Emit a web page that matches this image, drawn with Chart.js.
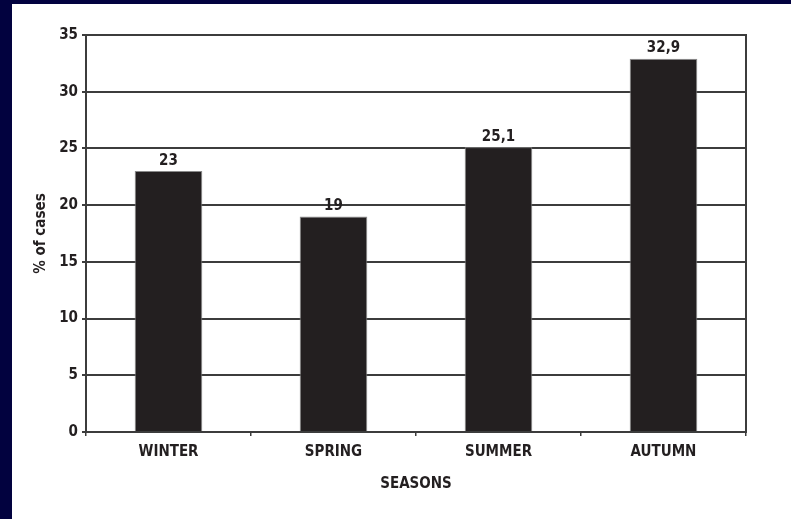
<!DOCTYPE html>
<html lang="en">
<head>
  <meta charset="UTF-8" />
  <title>Seasonal distribution of cases</title>
  <script src="https://cdn.jsdelivr.net/npm/chart.js"></script>
  <style>
    html, body {
      margin: 0;
      padding: 0;
      background: #02023f;
      overflow: hidden;
    }

    #chart-card {
      position: absolute;
      left: 12px;
      top: 4px;
      width: 779px;
      height: 515px;
      background: #ffffff;
    }
  </style>
</head>
<body>
  <div id="chart-card">
    <canvas id="seasonChart"></canvas>
  </div>

  <script>
    const seasons = ["WINTER", "SPRING", "SUMMER", "AUTUMN"];
    const casePercent = [23, 19, 25.1, 32.9];
    const yTicks = [0, 5, 10, 15, 20, 25, 30, 35];

    const FONT = "'Liberation Sans Narrow', 'Arial Narrow', 'DejaVu Sans Condensed', 'Liberation Sans', sans-serif";
    const INK = "#231f20";
    const GRID = "#3c3c3c";

    // value labels above each bar, decimal comma as in the original
    const barLabels = {
      id: "barLabels",
      afterDatasetsDraw(chart) {
        const ctx = chart.ctx;
        const meta = chart.getDatasetMeta(0);
        ctx.save();
        ctx.font = "bold 15px " + FONT;
        ctx.fillStyle = INK;
        ctx.textAlign = "center";
        ctx.textBaseline = "bottom";
        meta.data.forEach((bar, i) => {
          const txt = String(casePercent[i]).replace(".", ",");
          ctx.fillText(txt, bar.x, bar.y - 3);
        });
        ctx.restore();
      }
    };

    const ctx = document.getElementById("seasonChart").getContext("2d");

    new Chart(ctx, {
      type: "bar",
      data: {
        labels: seasons,
        datasets: [{
          label: "% of cases",
          data: casePercent,
          backgroundColor: INK,
          borderColor: "#8a8a8a",
          borderWidth: 1,
          barPercentage: 0.41,
          categoryPercentage: 1.0
        }]
      },
      options: {
        responsive: true,
        maintainAspectRatio: false,
        animation: false,
        layout: {
          padding: { left: 0, top: 31, right: 45, bottom: 0 }
        },
        plugins: {
          legend: { display: false },
          tooltip: { enabled: false }
        },
        scales: {
          x: {
            offset: true,
            grid: {
              offset: true,
              drawOnChartArea: false,
              drawTicks: true,
              tickLength: 4,
              color: GRID,
              lineWidth: 1.5
            },
            border: { display: true, color: GRID, width: 2 },
            ticks: {
              color: INK,
              padding: 7,
              font: { family: FONT, size: 15, weight: "bold" }
            },
            title: {
              display: true,
              text: "SEASONS",
              color: INK,
              padding: { top: 0, bottom: 26 },
              font: { family: FONT, size: 15, weight: "bold" }
            },
            afterFit(scale) { scale.height = 87; }
          },
          y: {
            min: 0,
            max: 35,
            afterBuildTicks(scale) {
              scale.ticks = yTicks.map(v => ({ value: v }));
            },
            grid: {
              color: GRID,
              lineWidth: 2,
              drawTicks: true,
              tickLength: 4
            },
            border: { display: true, color: GRID, width: 2 },
            ticks: {
              color: INK,
              padding: 4,
              font: { family: FONT, size: 15, weight: "bold" }
            },
            title: {
              display: true,
              text: "% of cases",
              color: INK,
              padding: { top: 20, bottom: 0 },
              font: { family: FONT, size: 15, weight: "bold" }
            },
            afterFit(scale) { scale.width = 74; }
          },
          yRight: {
            position: "right",
            min: 0,
            max: 35,
            grid: { drawOnChartArea: false, drawTicks: false },
            border: { display: true, color: GRID, width: 2 },
            ticks: { display: false },
            afterFit(scale) { scale.width = 0; }
          }
        }
      },
      plugins: [barLabels]
    });
  </script>
</body>
</html>
